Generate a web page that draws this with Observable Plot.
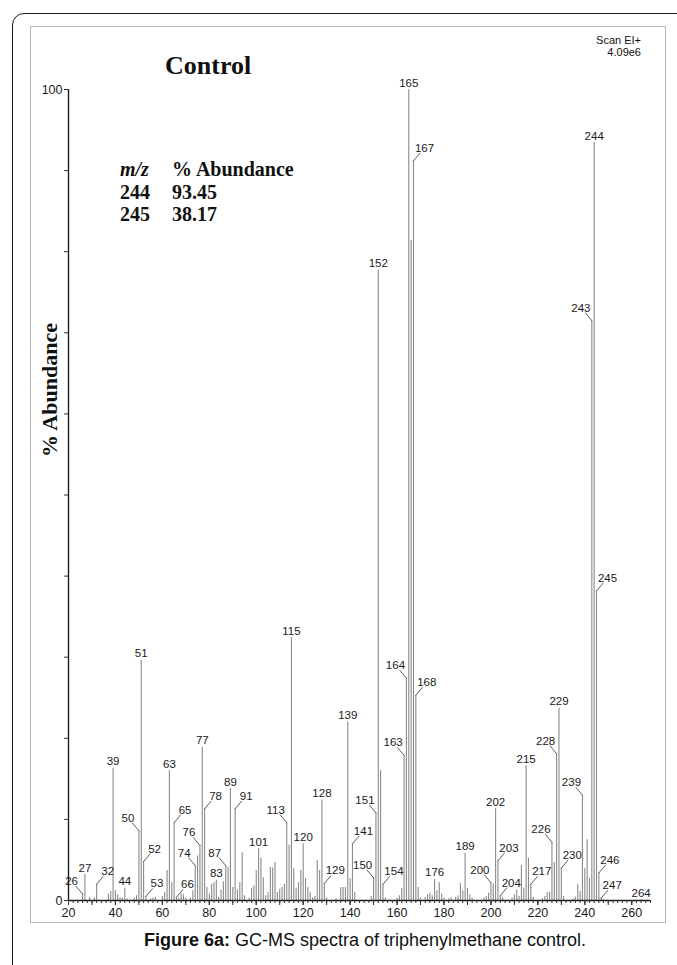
<!DOCTYPE html>
<html>
<head>
<meta charset="utf-8">
<script src="https://cdn.jsdelivr.net/npm/d3@7"></script>
<script src="https://cdn.jsdelivr.net/npm/@observablehq/plot@0.6"></script>
<style>
html, body { margin: 0; padding: 0; background: #fff; }
#wrap { position: relative; width: 677px; height: 965px; overflow: hidden; background: #fff; }
#outer { position: absolute; left: 12px; top: 13px; width: 720px; height: 1000px; border: 1.5px solid #1a1a1a; border-radius: 12px; box-sizing: border-box; }
#frame { position: absolute; left: 30px; top: 26px; width: 636px; height: 897px; border: 1px solid #b8b8b8; box-sizing: border-box; }
#chart { position: absolute; left: 0; top: 0; }
.serif { position: absolute; font-family: "Liberation Serif", "Times New Roman", serif; font-weight: bold; color: #111; white-space: nowrap; }
#title { left: 165px; top: 53px; font-size: 26px; line-height: 26px; }
#ylabel { left: 50px; top: 390px; font-size: 22px; line-height: 22px; transform: translate(-50%, -50%) rotate(-90deg); }
#note { left: 120px; top: 158px; font-size: 20px; line-height: 22.5px; }
#note span.c1 { display: inline-block; width: 52px; }
#scan { position: absolute; right: 36px; top: 34px; font-family: "Liberation Sans", Arial, sans-serif; font-size: 11px; line-height: 12px; text-align: right; color: #111; }
#caption { position: absolute; left: 0; width: 730px; top: 929px; text-align: center; font-family: "Liberation Sans", Arial, sans-serif; font-size: 18px; line-height: 22px; color: #111; }
</style>
</head>
<body>
<div id="wrap">
  <div id="outer"></div>
  <div id="frame"></div>
  <div id="chart"></div>
  <div id="title" class="serif">Control</div>
  <div id="ylabel" class="serif">% Abundance</div>
  <div id="note" class="serif">
    <div><span class="c1"><i>m/z</i></span>% Abundance</div>
    <div><span class="c1">244</span>93.45</div>
    <div><span class="c1">245</span>38.17</div>
  </div>
  <div id="scan">Scan EI+<br>4.09e6</div>
  <div id="caption"><b>Figure 6a:</b> GC-MS spectra of triphenylmethane control.</div>
</div>
<script>
// m/z of each peak
const mz = [
  26, 27, 29, 31, 32, 37, 38, 39, 40, 41,
  42, 43, 44, 45, 48, 49, 50, 51, 52, 53,
  55, 56, 57, 60, 61, 62, 63, 64, 65, 66,
  67, 68, 69, 70, 72, 73, 74, 75, 76, 77,
  78, 79, 80, 81, 82, 83, 84, 85, 86, 87,
  88, 89, 90, 91, 92, 93, 94, 95, 97, 98,
  99, 100, 101, 102, 103, 104, 105, 106, 107, 108,
  109, 110, 111, 112, 113, 114, 115, 116, 117, 118,
  119, 120, 121, 122, 123, 124, 125, 126, 127, 128,
  129, 130, 134, 136, 137, 138, 139, 140, 141, 142,
  149, 150, 151, 152, 153, 154, 155, 160, 161, 162,
  163, 164, 165, 166, 167, 168, 169, 170, 172, 173,
  174, 175, 176, 177, 178, 179, 180, 182, 183, 185,
  186, 187, 188, 189, 190, 191, 192, 197, 198, 199,
  200, 201, 202, 203, 204, 205, 209, 210, 211, 212,
  213, 214, 215, 216, 217, 218, 222, 223, 224, 225,
  226, 227, 228, 229, 230, 231, 235, 236, 237, 238,
  239, 240, 241, 242, 243, 244, 245, 246, 247, 248,
  264
];
// % abundance of each peak (same order)
const abundance = [
  0.8, 3.2, 0.4, 0.3, 2.0, 0.8, 1.1, 16.3, 1.2, 0.7,
  0.3, 0.3, 1.5, 0.2, 0.3, 0.6, 8.6, 29.6, 4.8, 0.5,
  0.2, 0.3, 0.4, 0.5, 1.0, 3.7, 16.0, 2.2, 9.6, 0.4,
  0.3, 0.8, 0.7, 0.3, 0.3, 1.2, 4.3, 5.5, 6.8, 18.9,
  11.3, 1.6, 0.8, 2.0, 2.2, 2.5, 0.4, 1.3, 2.3, 4.3,
  4.1, 13.8, 1.6, 11.3, 1.3, 2.2, 5.9, 0.6, 0.3, 1.5,
  1.8, 3.7, 6.4, 5.2, 2.8, 0.6, 1.0, 4.1, 4.0, 4.7,
  1.0, 1.4, 1.6, 2.0, 9.6, 6.8, 32.4, 3.9, 1.5, 2.2,
  3.7, 7.0, 2.7, 1.6, 1.0, 0.3, 0.5, 4.9, 3.7, 12.4,
  2.1, 0.3, 0.2, 1.6, 1.6, 1.6, 22.0, 2.7, 7.0, 1.0,
  0.5, 2.8, 10.8, 77.7, 16.0, 2.0, 0.3, 0.3, 0.6, 1.5,
  17.9, 27.4, 100, 81.4, 91.2, 25.3, 1.6, 0.3, 0.4, 0.7,
  0.9, 0.6, 2.6, 1.2, 2.2, 0.8, 0.3, 0.2, 0.3, 0.4,
  0.6, 2.1, 1.2, 5.8, 1.5, 0.7, 0.3, 0.3, 0.5, 0.9,
  2.2, 2.0, 11.3, 4.9, 0.6, 0.3, 0.3, 0.7, 1.3, 0.5,
  4.3, 1.5, 16.6, 5.2, 2.0, 0.4, 0.2, 0.5, 1.0, 1.0,
  7.2, 4.7, 18.1, 23.7, 4.0, 0.5, 0.2, 0.4, 2.0, 1.1,
  13.0, 3.9, 7.5, 2.7, 71.5, 93.45, 38.17, 3.4, 0.3, 0.1,
  0.1
];
// labelled peaks: placed directly above, or with a leader to the left / right
const labelsAbove = [27, 39, 44, 51, 63, 77, 83, 89, 101, 115, 120, 128, 139, 152, 165, 176, 189, 202, 215, 229, 244, 264];
const labelsLeft  = [26, 50, 74, 76, 87, 113, 150, 151, 163, 164, 200, 226, 228, 239, 243];
const labelsRight = [32, 52, 53, 65, 66, 78, 91, 129, 141, 154, 167, 168, 203, 204, 217, 230, 245, 246, 247];
// axis ticks
const xMinorTicks = d3.range(20, 269, 2);
const xTenTicks = d3.range(20, 269, 10);
const xLabelTicks = [20, 40, 60, 80, 100, 120, 140, 160, 180, 200, 220, 240, 260];
const yTicks = [0, 10, 20, 30, 40, 50, 60, 70, 80, 90, 100];
const yTickLabels = [0, 100];
const xDomain = [20, 268];
const yDomain = [0, 100];

const peaks = mz.map((m, i) => ({mz: m, ab: abundance[i]}));
const lab = (list, side) => list.map(m => ({mz: m, ab: abundance[mz.indexOf(m)], side}));
const above = lab(labelsAbove, 0);
const left = lab(labelsLeft, -1);
const right = lab(labelsRight, 1);
const leaders = left.concat(right);

const lineShape = {draw(context, l) { context.moveTo(0, 0); context.lineTo(0, -l); }};
const txt = {x: "mz", y: "ab", text: d => String(d.mz), lineAnchor: "bottom", fill: "#1a1a1a", fontSize: 11.5};

const chart = Plot.plot({
  width: 677,
  height: 925,
  marginLeft: 68,
  marginRight: 27,
  marginTop: 89,
  marginBottom: 25,
  style: {fontFamily: "'Liberation Sans', Arial, sans-serif", fontSize: "12px", color: "#1a1a1a", background: "transparent"},
  x: {domain: xDomain},
  y: {domain: yDomain},
  marks: [
    Plot.ruleX(peaks, {x: "mz", y1: 0, y2: "ab", stroke: "#8a8a8a", strokeWidth: 1.1}),
    Plot.ruleY([yDomain[0]], {stroke: "#1a1a1a", strokeWidth: 1.4}),
    Plot.ruleX([xDomain[0]], {stroke: "#1a1a1a", strokeWidth: 1.4}),
    Plot.axisX({ticks: xMinorTicks, tickSize: 3, tickFormat: () => "", label: null, stroke: "#333"}),
    Plot.axisX({ticks: xTenTicks, tickSize: 5, tickFormat: () => "", label: null, stroke: "#333"}),
    Plot.axisX({ticks: xLabelTicks, tickSize: 5, tickPadding: 3, label: null, fontSize: 12.5, fill: "#1a1a1a", stroke: "#333"}),
    Plot.axisY({ticks: yTicks, tickSize: 4, tickPadding: 2, tickFormat: d => yTickLabels.includes(d) ? String(d) : "", label: null, fontSize: 12.5, fill: "#1a1a1a", stroke: "#333"}),
    Plot.vector(leaders, {x: "mz", y: "ab", rotate: d => d.side * 40, length: 10, anchor: "start", shape: lineShape, stroke: "#444", strokeWidth: 0.8}),
    Plot.text(above, {...txt, dy: -3}),
    Plot.text(left, {...txt, dx: -11, dy: -9}),
    Plot.text(right, {...txt, dx: 11, dy: -9})
  ]
});
document.getElementById("chart").appendChild(chart);
</script>
</body>
</html>
